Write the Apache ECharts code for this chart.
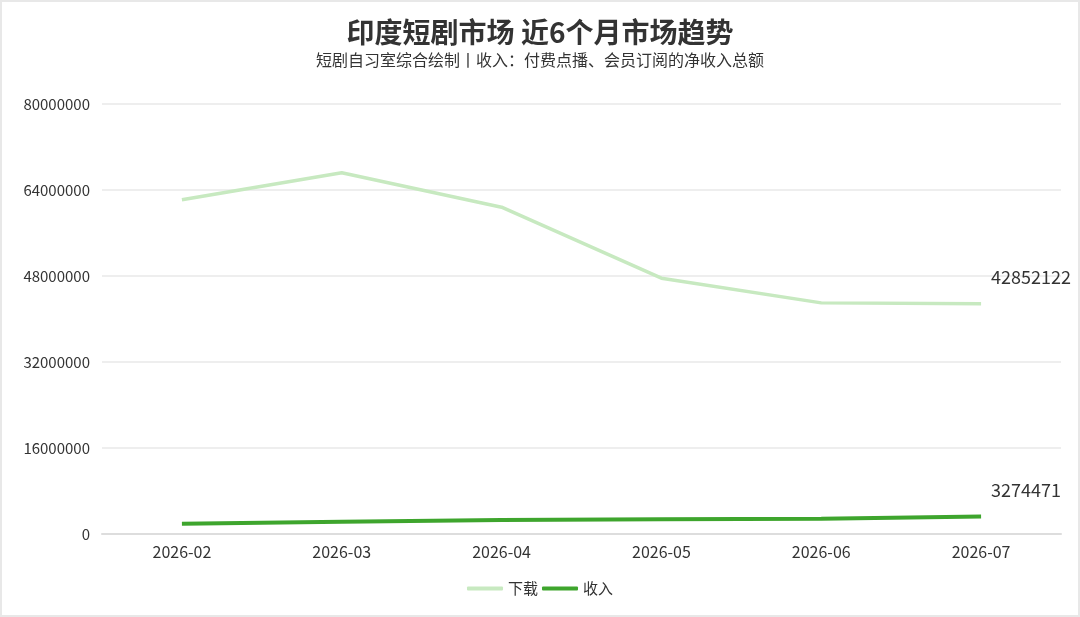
<!DOCTYPE html>
<html>
<head>
<meta charset="utf-8">
<script src="https://cdn.jsdelivr.net/npm/echarts@6/dist/echarts.min.js"></script>
<style>
html, body { margin: 0; padding: 0; background: #fff; }
#main { width: 1080px; height: 617px; box-sizing: border-box; border: 2px solid #e8e8e8; }
</style>
</head>
<body>
<div id="main"></div>
<script>
var months = ['2026-02', '2026-03', '2026-04', '2026-05', '2026-06', '2026-07'];
var downloads = [62200000, 67200000, 60800000, 47600000, 43000000, 42852122];
var revenue = [1920000, 2290000, 2600000, 2750000, 2850000, 3274471];
var yTicks = { min: 0, max: 80000000, interval: 16000000 };

var font = '"Noto Sans CJK SC", "Noto Sans", sans-serif';
var chart = echarts.init(document.getElementById('main'));
chart.setOption({
	animation: false,
	textStyle: { fontFamily: font },
	title: {
		text: '印度短剧市场 近6个月市场趋势',
		subtext: '短剧自习室综合绘制丨收入：付费点播、会员订阅的净收入总额',
		left: 'center',
		top: 11,
		itemGap: 6,
		textStyle: { fontSize: 28, fontWeight: 'bold', color: '#333', fontFamily: font },
		subtextStyle: { fontSize: 16, color: '#333', fontFamily: font }
	},
	legend: {
		bottom: 14,
		left: 'center',
		icon: 'roundRect',
		itemWidth: 36,
		itemHeight: 4,
		itemGap: 4,
		textStyle: { fontSize: 15, color: '#333' },
		data: ['下载', '收入']
	},
	grid: { left: 100, right: 17, top: 102, bottom: 81, containLabel: false },
	xAxis: {
		type: 'category',
		data: months,
		axisLine: { lineStyle: { color: '#ddd', width: 2 } },
		axisTick: { alignWithLabel: true, length: 8, lineStyle: { color: '#ddd', width: 2 } },
		axisLabel: { fontSize: 16, color: '#333', margin: 10 }
	},
	yAxis: {
		type: 'value',
		min: yTicks.min,
		max: yTicks.max,
		interval: yTicks.interval,
		axisLine: { show: false },
		axisTick: { show: false },
		axisLabel: { fontSize: 15, color: '#333', margin: 12, formatter: function (v) { return String(v); } },
		splitLine: { lineStyle: { color: '#eee', width: 2 } }
	},
	series: [
		{
			name: '下载',
			type: 'line',
			data: downloads,
			symbol: 'none',
			color: '#c7e9c0',
			lineStyle: { width: 3.5 },
			endLabel: { show: true, fontSize: 18, color: '#333', offset: [2, -27] }
		},
		{
			name: '收入',
			type: 'line',
			data: revenue,
			symbol: 'none',
			color: '#3ea52d',
			lineStyle: { width: 4 },
			endLabel: { show: true, fontSize: 18, color: '#333', offset: [2, -26] }
		}
	]
});
</script>
</body>
</html>
